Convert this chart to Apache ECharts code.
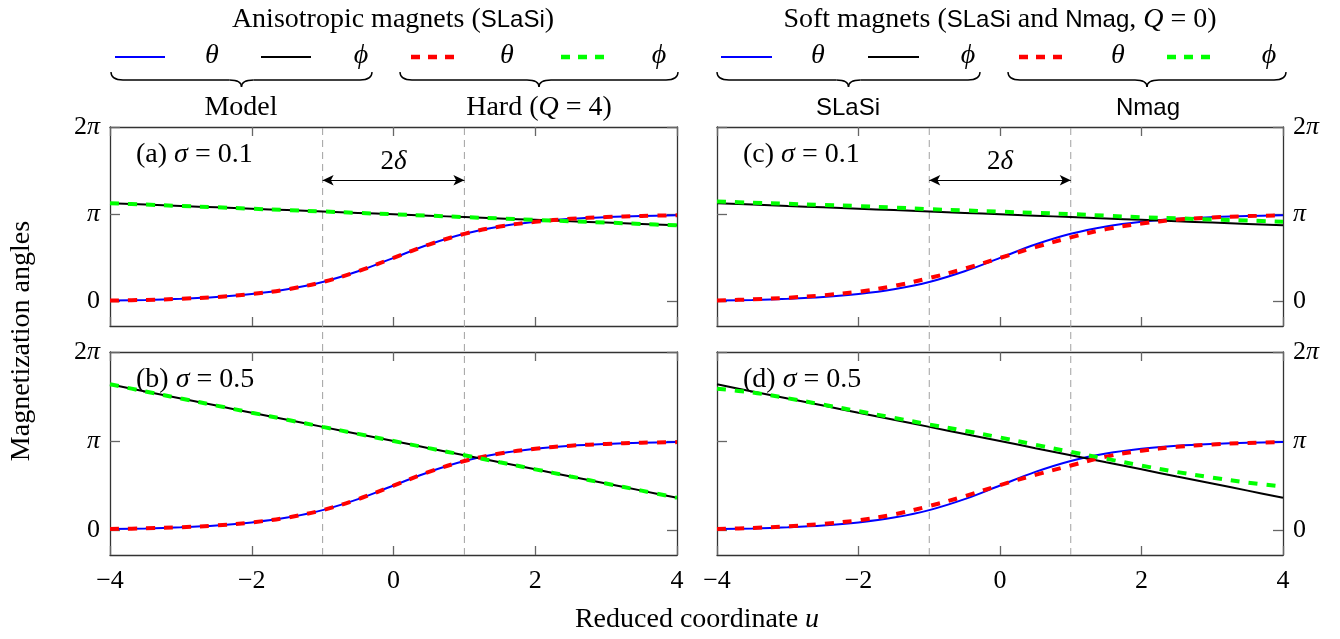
<!DOCTYPE html>
<html>
<head>
<meta charset="utf-8">
<script src="https://cdn.jsdelivr.net/npm/echarts@6/dist/echarts.min.js"></script>
<style>
  html, body { margin: 0; padding: 0; background: #fff; }
  #chart { width: 1340px; height: 639px; }
</style>
</head>
<body>
<div id="chart"></div>
<script>
// reduced coordinate u
const uValues = [-4, -3.5, -3, -2.5, -2, -1.5, -1, -0.5, 0, 0.5, 1, 1.5, 2, 2.5, 3, 3.5, 4]
const thetaModel = [0.012, 0.019, 0.032, 0.052, 0.086, 0.14, 0.224, 0.347, 0.5, 0.653, 0.776, 0.86, 0.914, 0.948, 0.968, 0.981, 0.988]
const thetaHard = [0.012, 0.019, 0.032, 0.052, 0.086, 0.14, 0.224, 0.347, 0.5, 0.653, 0.776, 0.86, 0.914, 0.948, 0.968, 0.981, 0.988]
const phiModel01 = [1.127, 1.111, 1.095, 1.080, 1.064, 1.048, 1.032, 1.016, 1, 0.984, 0.968, 0.952, 0.936, 0.920, 0.905, 0.889, 0.873]
const phiHard01 = [1.127, 1.111, 1.095, 1.080, 1.064, 1.048, 1.032, 1.016, 1, 0.984, 0.968, 0.952, 0.936, 0.920, 0.905, 0.889, 0.873]
const phiModel05 = [1.637, 1.557, 1.477, 1.398, 1.318, 1.239, 1.159, 1.080, 1, 0.920, 0.841, 0.761, 0.682, 0.602, 0.523, 0.443, 0.363]
const phiHard05 = [1.637, 1.557, 1.477, 1.398, 1.318, 1.239, 1.159, 1.080, 1, 0.920, 0.841, 0.761, 0.682, 0.602, 0.523, 0.443, 0.363]
const thetaNmag01 = [0.012, 0.025, 0.044, 0.072, 0.113, 0.178, 0.269, 0.377, 0.5, 0.623, 0.736, 0.83, 0.894, 0.938, 0.964, 0.979, 0.988]
const phiNmag01 = [1.146, 1.133, 1.12, 1.107, 1.094, 1.077, 1.059, 1.044, 1.03, 1.016, 1.002, 0.984, 0.966, 0.953, 0.941, 0.928, 0.915]
const thetaNmag05 = [0.012, 0.024, 0.042, 0.07, 0.11, 0.175, 0.27, 0.38, 0.505, 0.62, 0.725, 0.825, 0.892, 0.935, 0.962, 0.978, 0.988]
const phiNmag05 = [1.587, 1.545, 1.48, 1.408, 1.335, 1.261, 1.186, 1.115, 1.04, 0.958, 0.878, 0.801, 0.724, 0.652, 0.59, 0.533, 0.488]

// domain wall width marks (u = -1 and u = 1) and the 2δ arrow height
const wallU = [-1, 1]
const deltaLevel = 1.39

// axis ticks
const yTicks = [0, 1, 2]
const yTickLabels = ['0', '{i|π}', '2{i|π}']

const SERIF = '"Liberation Serif", "DejaVu Serif", serif'
const SANS = '"Liberation Sans", "DejaVu Sans", sans-serif'
const MATH = { fontFamily: SERIF, fontStyle: 'italic' }

const BLUE = '#0000ff'
const BLACK = '#000000'
const RED = '#ff0000'
const GREEN = '#00ff00'

const panels = [
  { grid: { left: 110, top: 127, width: 567, height: 199 }, labelX: false, labelSide: 'left', tag: '(a)', sigma: '0.1', arrow: true,
    lines: [['Model θ', thetaModel, BLUE, false], ['Model ϕ', phiModel01, BLACK, false], ['Hard θ', thetaHard, RED, true], ['Hard ϕ', phiHard01, GREEN, true]] },
  { grid: { left: 110, top: 352, width: 567, height: 203 }, labelX: true, labelSide: 'left', tag: '(b)', sigma: '0.5', arrow: false,
    lines: [['Model θ', thetaModel, BLUE, false], ['Model ϕ', phiModel05, BLACK, false], ['Hard θ', thetaHard, RED, true], ['Hard ϕ', phiHard05, GREEN, true]] },
  { grid: { left: 717, top: 127, width: 566, height: 199 }, labelX: false, labelSide: 'right', tag: '(c)', sigma: '0.1', arrow: true,
    lines: [['SLaSi θ', thetaModel, BLUE, false], ['SLaSi ϕ', phiModel01, BLACK, false], ['Nmag θ', thetaNmag01, RED, true], ['Nmag ϕ', phiNmag01, GREEN, true]] },
  { grid: { left: 717, top: 352, width: 566, height: 203 }, labelX: true, labelSide: 'right', tag: '(d)', sigma: '0.5', arrow: false,
    lines: [['SLaSi θ', thetaModel, BLUE, false], ['SLaSi ϕ', phiModel05, BLACK, false], ['Nmag θ', thetaNmag05, RED, true], ['Nmag ϕ', phiNmag05, GREEN, true]] }
]

const grid = []
const xAxis = []
const yAxis = []
const series = []

const frameLine = { show: true, onZero: false, lineStyle: { color: '#333', width: 1.3 } }
const tickStyle = { color: '#666', width: 1.3 }

const xAxisOf = (gridIndex, position, showLabel) => ({
  gridIndex,
  type: 'value',
  position,
  min: -4,
  max: 4,
  interval: 2,
  axisLine: frameLine,
  splitLine: { show: false },
  axisTick: { show: true, inside: true, length: 9, lineStyle: tickStyle },
  axisLabel: {
    show: showLabel,
    margin: 13,
    color: '#000',
    fontFamily: SERIF,
    fontSize: 26,
    formatter: v => (v < 0 ? '−' + (-v) : String(v))
  }
})

const yAxisOf = (gridIndex, position, showLabel) => ({
  gridIndex,
  type: 'value',
  position,
  min: -0.28,
  max: 2,
  axisLine: frameLine,
  splitLine: { show: false },
  axisTick: { show: true, inside: true, length: 10, customValues: yTicks, lineStyle: tickStyle },
  axisLabel: {
    show: showLabel,
    customValues: yTicks,
    margin: 10,
    color: '#000',
    fontFamily: SERIF,
    fontSize: 26,
    formatter: v => yTickLabels[yTicks.indexOf(v)] || '',
    rich: { i: { ...MATH, fontSize: 26, color: '#000' } }
  }
})

panels.forEach((p, i) => {
  grid.push({ ...p.grid, show: false })
  xAxis.push(xAxisOf(i, 'bottom', p.labelX))
  xAxis.push(xAxisOf(i, 'top', false))
  yAxis.push(yAxisOf(i, 'left', p.labelSide === 'left'))
  yAxis.push(yAxisOf(i, 'right', p.labelSide === 'right'))

  p.lines.forEach(([name, values, color, dashed], k) => {
    const s = {
      name,
      type: 'line',
      xAxisIndex: 2 * i,
      yAxisIndex: 2 * i,
      data: uValues.map((u, j) => [u, values[j]]),
      showSymbol: false,
      symbol: 'none',
      smooth: 0.35,
      silent: true,
      animation: false,
      z: dashed ? 4 : 3,
      lineStyle: dashed ? { color, width: 4, type: [9, 9], cap: 'butt' } : { color, width: 2 }
    }
    if (k === 0 && p.arrow) {
      s.markLine = {
        silent: true,
        animation: false,
        symbol: ['arrow', 'arrow'],
        symbolSize: [8, 11],
        lineStyle: { color: '#000', width: 1.2, type: 'solid' },
        label: {
          show: true,
          position: 'insideMiddleTop',
          distance: 5,
          formatter: '{n|2}{i|δ}',
          rich: {
            n: { fontFamily: SERIF, fontSize: 27, color: '#000' },
            i: { ...MATH, fontSize: 27, color: '#000' }
          }
        },
        emphasis: { disabled: true },
        data: [[{ coord: [wallU[0], deltaLevel] }, { coord: [wallU[1], deltaLevel] }]]
      }
    }
    series.push(s)
  })
})

// overlay grids spanning both rows for the dashed u = ±1 lines
const overlays = [
  { left: 110, top: 127, width: 567, height: 428 },
  { left: 717, top: 127, width: 566, height: 428 }
]
overlays.forEach(g => {
  const gi = grid.length
  grid.push({ ...g, show: false })
  xAxis.push({ gridIndex: gi, type: 'value', min: -4, max: 4, show: false })
  yAxis.push({ gridIndex: gi, type: 'value', min: 0, max: 1, show: false })
  wallU.forEach(u => {
    series.push({
      type: 'line',
      xAxisIndex: xAxis.length - 1,
      yAxisIndex: yAxis.length - 1,
      data: [[u, 0], [u, 1]],
      showSymbol: false,
      symbol: 'none',
      silent: true,
      animation: false,
      z: 1,
      lineStyle: { color: '#a0a0a0', width: 1, type: [7, 5] }
    })
  })
})

// headers, legend keys, braces and titles
const FS = 28
const txt = (x, y, text, opt = {}) => ({
  type: 'text',
  x,
  y,
  silent: true,
  rotation: opt.rotation || 0,
  style: {
    text,
    fill: '#000',
    fontFamily: opt.fontFamily || SERIF,
    fontSize: opt.fontSize || FS,
    fontStyle: opt.fontStyle || 'normal',
    align: opt.align || 'center',
    verticalAlign: 'middle',
    textAlign: opt.align || 'center',
    textVerticalAlign: 'middle',
    rich: {
      s: { fontFamily: SANS, fontSize: 24, fill: '#000' },
      i: { ...MATH, fontSize: opt.fontSize || FS, fill: '#000' }
    }
  }
})

const key = (x1, x2, color, dashed) => ({
  type: 'line',
  silent: true,
  shape: { x1, y1: 57, x2, y2: 57 },
  style: dashed ? { stroke: color, lineWidth: 4.5, lineDash: [9, 8] } : { stroke: color, lineWidth: 2 }
})

const braceStyle = { stroke: '#000', lineWidth: 1.4, fill: null }
const brace = (x0, x1) => {
  const m = (x0 + x1) / 2
  const curve = (a, b, c, d, cx, cy) => ({ type: 'bezierCurve', silent: true, shape: { x1: a, y1: b, x2: c, y2: d, cpx1: cx, cpy1: cy }, style: braceStyle })
  const seg = (a, c) => ({ type: 'line', silent: true, shape: { x1: a, y1: 80, x2: c, y2: 80 }, style: braceStyle })
  return {
    type: 'group',
    silent: true,
    children: [
      curve(x0, 72, x0 + 12, 80, x0, 80),
      seg(x0 + 12, m - 12),
      curve(m - 12, 80, m, 87, m, 80),
      curve(m, 87, m + 12, 80, m, 80),
      seg(m + 12, x1 - 12),
      curve(x1 - 12, 80, x1, 72, x1, 80)
    ]
  }
}

const graphic = [
  txt(393, 20, 'Anisotropic magnets ({s|SLaSi})'),
  txt(1000, 20, 'Soft magnets ({s|SLaSi} and {s|Nmag}, {i|Q} = 0)'),

  key(115, 165, BLUE, false), txt(212, 56, 'θ', { fontStyle: 'italic' }),
  key(261, 311, BLACK, false), txt(361, 56, 'ϕ', { fontStyle: 'italic' }),
  key(411, 456, RED, true), txt(507, 56, 'θ', { fontStyle: 'italic' }),
  key(561, 606, GREEN, true), txt(659, 56, 'ϕ', { fontStyle: 'italic' }),

  key(721, 772, BLUE, false), txt(818, 56, 'θ', { fontStyle: 'italic' }),
  key(868, 919, BLACK, false), txt(968, 56, 'ϕ', { fontStyle: 'italic' }),
  key(1019, 1064, RED, true), txt(1118, 56, 'θ', { fontStyle: 'italic' }),
  key(1167, 1212, GREEN, true), txt(1269, 56, 'ϕ', { fontStyle: 'italic' }),

  brace(111, 372), brace(400, 678), brace(717, 980), brace(1008, 1286),

  txt(241, 108, 'Model'),
  txt(539, 108, 'Hard ({i|Q} = 4)'),
  txt(848, 108, '{s|SLaSi}'),
  txt(1148, 108, '{s|Nmag}'),

  txt(22, 341, 'Magnetization angles', { rotation: Math.PI / 2 }),
  txt(697, 620, 'Reduced coordinate {i|u}')
]

panels.forEach(p => {
  graphic.push(txt(p.grid.left + 26, p.grid.top + 28, p.tag + ' {i|σ} = ' + p.sigma, { align: 'left' }))
})

const myChart = echarts.init(document.getElementById('chart'), null, { renderer: 'canvas' })
myChart.setOption({
  animation: false,
  backgroundColor: '#fff',
  grid,
  xAxis,
  yAxis,
  series,
  graphic
})
</script>
</body>
</html>
